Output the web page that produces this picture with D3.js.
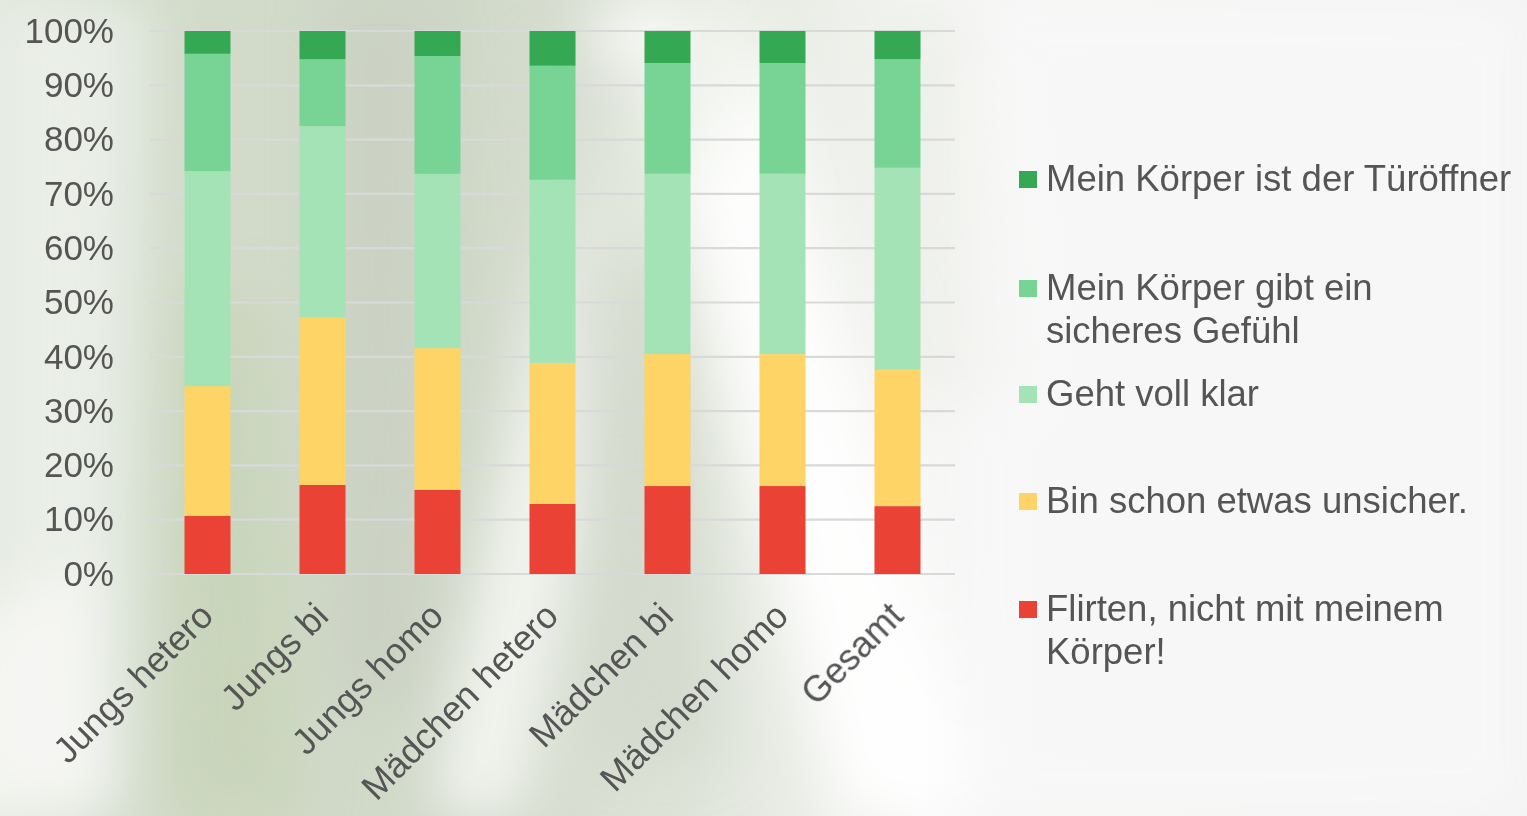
<!DOCTYPE html>
<html><head><meta charset="utf-8">
<script src="https://cdn.jsdelivr.net/npm/d3@7"></script>
<style>html,body{margin:0;padding:0;overflow:hidden;background:#fff}svg{display:block}</style>
</head><body>
<script>
const categories = ["Jungs hetero","Jungs bi","Jungs homo","Mädchen hetero","Mädchen bi","Mädchen homo","Gesamt"];
const seriesNames = ["Flirten, nicht mit meinem Körper!","Bin schon etwas unsicher.","Geht voll klar","Mein Körper gibt ein sicheres Gefühl","Mein Körper ist der Türöffner"];
const flirten   = [10.7,16.4,15.5,12.9,16.2,16.2,12.5];
const unsicher  = [23.9,30.9,26.1,26.0,24.3,24.3,25.1];
const vollKlar  = [39.6,35.2,32.1,33.7,33.2,33.2,37.2];
const sicher    = [21.6,12.3,21.7,21.0,20.4,20.4,20.0];
const tuerOeffner=[4.2,5.2,4.6,6.4,5.9,5.9,5.2];
const yTicks = [0,10,20,30,40,50,60,70,80,90,100];
const legendLines = [["Mein Körper ist der Türöffner"],["Mein Körper gibt ein","sicheres Gefühl"],["Geht voll klar"],["Bin schon etwas unsicher."],["Flirten, nicht mit meinem","Körper!"]];
const colors = ["#EA4335","#FDD465","#A3E3B6","#77D494","#34A853"];

const W=1527,H=816;
const FONT="'Liberation Sans',Arial,Helvetica,sans-serif";
const svg=d3.select("body").append("svg").attr("width",W).attr("height",H);
const defs=svg.append("defs");
const bg=defs.append("linearGradient").attr("id","bg").attr("x1",0).attr("x2",1).attr("y1",0).attr("y2",0);
[[0,"#e3e8dd"],[0.08,"#d3dccb"],[0.3,"#d0d8c8"],[0.45,"#dfe4d9"],[0.6,"#f6f7f5"],[1,"#f4f4f4"]].forEach(s=>bg.append("stop").attr("offset",s[0]).attr("stop-color",s[1]));
defs.append("filter").attr("id","blur").attr("x","-50%").attr("y","-50%").attr("width","200%").attr("height","200%")
  .append("feGaussianBlur").attr("stdDeviation",28);
svg.append("rect").attr("width",W).attr("height",H).attr("fill","url(#bg)");
const deco=svg.append("g").attr("filter","url(#blur)");
// blurred background shapes (leaves / light streaks)
deco.append("path").attr("d","M0,0 L150,0 L120,816 L0,816Z").attr("fill","#eef1ec").attr("opacity",0.8);
deco.append("path").attr("d","M-40,620 L90,560 L110,816 L-40,816Z").attr("fill","#f5f6f3");
deco.append("path").attr("d","M180,300 L260,300 L300,816 L170,816Z").attr("fill","#c5d3b4").attr("opacity",0.7);
deco.append("path").attr("d","M330,0 L430,0 L420,700 L330,700Z").attr("fill","#c9cfc1").attr("opacity",0.7);
deco.append("path").attr("d","M600,0 L680,0 L520,816 L430,816Z").attr("fill","#f6f7f4").attr("opacity",0.9);
deco.append("path").attr("d","M540,60 L640,60 L720,760 L600,760Z").attr("fill","#cfd6c8").attr("opacity",0.6);
deco.append("path").attr("d","M620,0 L760,0 L980,816 L840,816Z").attr("fill","#ffffff").attr("opacity",0.9);
deco.append("path").attr("d","M860,0 L980,0 L1020,400 L900,400Z").attr("fill","#e9ede6").attr("opacity",0.7);
deco.append("path").attr("d","M700,-50 L820,-50 L640,260 L560,260Z").attr("fill","#e6ebe1").attr("opacity",0.6);
deco.append("path").attr("d","M960,0 L1527,0 L1527,816 L960,816Z").attr("fill","#f7f7f7").attr("opacity",0.8);

const x=d3.scaleBand().domain(categories).range([150,955]).paddingInner(0.6).paddingOuter(0.3);
const y=d3.scaleLinear().domain([0,100]).range([574,31]);

// gridlines
svg.append("g").selectAll("line").data(yTicks).join("line")
  .attr("x1",150).attr("x2",955).attr("y1",d=>y(d)).attr("y2",d=>y(d))
  .attr("stroke","#d9d9d9").attr("stroke-width",2.2);

const yAxis=svg.append("g").attr("transform","translate(118,0)")
  .call(d3.axisLeft(y).tickValues(yTicks).tickFormat(d=>d+"%").tickSize(0).tickPadding(4));
yAxis.select(".domain").remove();
yAxis.selectAll("text").attr("font-family",FONT).attr("font-size",35).attr("fill","#555");

const table=categories.map((c,i)=>({cat:c,s0:flirten[i],s1:unsicher[i],s2:vollKlar[i],s3:sicher[i],s4:tuerOeffner[i]}));
const stack=d3.stack().keys(["s0","s1","s2","s3","s4"])(table);
svg.append("g").selectAll("g").data(stack).join("g").attr("fill",(d,i)=>colors[i])
  .selectAll("rect").data(d=>d).join("rect")
  .attr("x",d=>x(d.data.cat)).attr("width",x.bandwidth())
  .attr("y",d=>y(Math.min(100,d[1]))).attr("height",d=>y(d[0])-y(Math.min(100,d[1])));

const xAxis=svg.append("g").attr("transform","translate(0,574)")
  .call(d3.axisBottom(x).tickSize(0).tickPadding(0));
xAxis.select(".domain").remove();
xAxis.selectAll("text").attr("font-family",FONT).attr("font-size",36).attr("fill","#555")
  .attr("text-anchor","end").attr("y",0).attr("dy",0).attr("transform","translate(8,44) rotate(-45)");

// legend
const lg=svg.append("g");
const legendY=[178,287,393,500,608];
const order=[4,3,2,1,0];
order.forEach((si,k)=>{
  const g=lg.append("g").attr("transform",`translate(1019,${legendY[k]})`);
  g.append("rect").attr("x",0).attr("y",-7).attr("width",18).attr("height",17).attr("fill",colors[si]);
  legendLines[k].forEach((t,j)=>g.append("text").attr("x",27).attr("y",j*43).attr("dy","0.36em")
    .attr("font-family",FONT).attr("font-size",36.5).attr("fill","#555").text(t));
});
</script>
</body></html>
